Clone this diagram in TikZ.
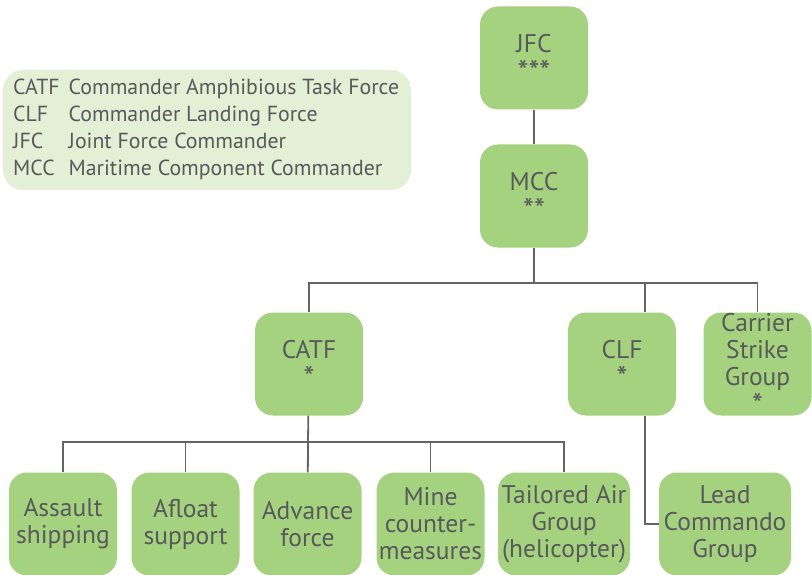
\documentclass[tikz,border=0pt]{standalone}
\usepackage{fontspec}
\setmainfont{PT Sans}
\definecolor{boxgreen}{RGB}{165,210,127}
\definecolor{keygreen}{RGB}{227,240,214}
\definecolor{textgray}{RGB}{88,89,91}
\definecolor{linegray}{RGB}{100,100,100}
\newcommand{\rank}[1]{\raisebox{-3pt}{\fontsize{31}{27}\selectfont #1}}
\begin{document}
\begin{tikzpicture}[x=1pt,y=-1pt,
    unit/.style={fill=boxgreen, rounded corners=18pt, minimum width=108pt, minimum height=103pt,
      inner sep=0pt, align=center, text=textgray, font=\fontsize{25.5}{27}\selectfont},
    wideunit/.style={unit, minimum width=132pt},
    link/.style={draw=linegray, line width=1.8pt}]
  \useasboundingbox (0,0) rectangle (812,575);
  \def\offset{23pt}
  \node[fill=keygreen, rounded corners=20pt, minimum width=408pt, minimum height=120pt] (key) at (207,130) {};
  \node[anchor=west, inner sep=0pt, text=textgray, font=\fontsize{21.8}{27}\selectfont] (keytext) at (13,130) {%
    \begin{tabular}{@{}l@{\hspace{9pt}}l@{}}
      CATF & Commander Amphibious Task Force\\
      CLF & Commander Landing Force\\
      JFC & Joint Force Commander\\
      MCC & Maritime Component Commander
    \end{tabular}};
  \node[unit] (jfc) at (534,58) {JFC\\\rank{***}};
  \node[unit] (mcc) at (534,196) {MCC\\\rank{**}};
  \node[unit] (catf) at (309,364) {CATF\\\rank{*}};
  \node[unit] (clf) at (622,364) {CLF\\\rank{*}};
  \node[unit] (csg) at (757.5,364) {Carrier\\Strike\\Group\\\rank{*}};
  \node[unit] (assault) at (63,524) {Assault\\shipping};
  \node[unit] (afloat) at (185.5,524) {Afloat\\support};
  \node[unit] (advance) at (307.5,524) {Advance\\force};
  \node[unit] (mine) at (430.5,524) {Mine\\counter-\\measures};
  \node[wideunit] (tailored) at (564,524) {Tailored Air\\Group\\(helicopter)};
  \node[wideunit] (lead) at (725,524) {Lead\\Commando\\Group};
  \coordinate (mccbar) at (534,283);
  \coordinate (catfbar) at (308,442);
  \draw[link] (jfc) -- (mcc);
  \draw[link] (mcc) -- (mccbar);
  \draw[link] (mccbar) -| (catf);
  \draw[link] (mccbar) -| ([xshift=\offset]clf.north);
  \draw[link] (mccbar) -| (csg);
  \draw[link] (catf) -- (catfbar);
  \draw[link] (catfbar) -| (assault);
  \draw[link] (catfbar) -| (afloat);
  \draw[link] (catfbar) -| (mine);
  \draw[link] (catfbar) -| (tailored);
  \draw[link] (catfbar) -- (advance);
  \draw[link] ([xshift=\offset]clf.south) |- (lead);
\end{tikzpicture}
\end{document}
